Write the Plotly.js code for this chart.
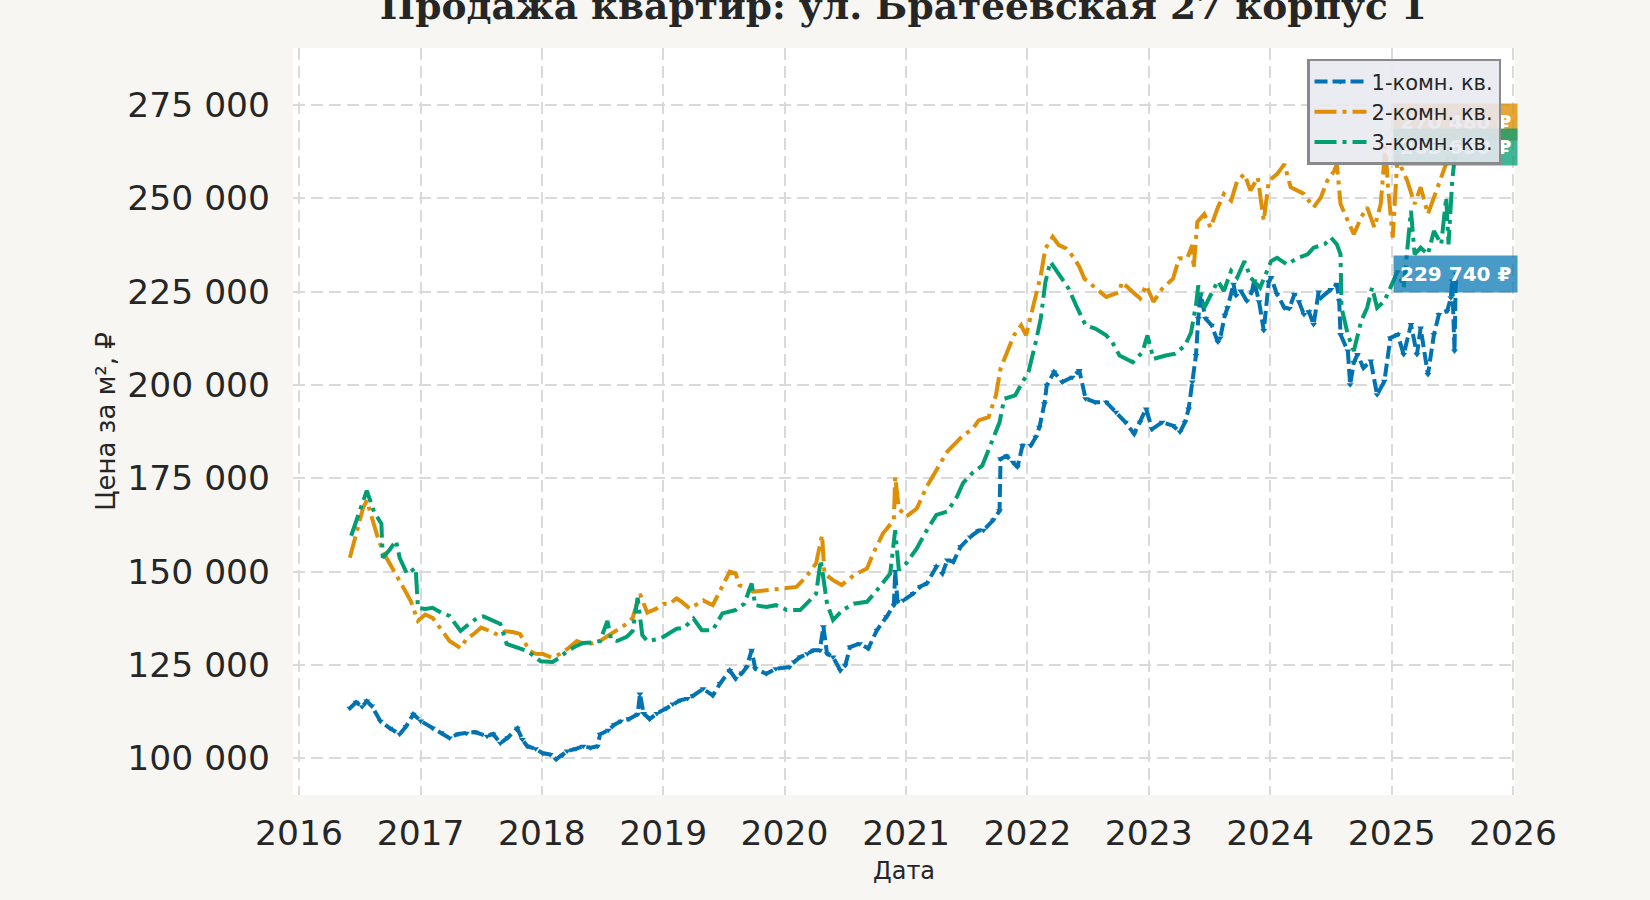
<!DOCTYPE html>
<html>
<head>
<meta charset="utf-8">
<script src="https://cdn.plot.ly/plotly-3.0.1.min.js"></script>
<style>
html,body{margin:0;padding:0;background:#f7f6f2;}
#chart{width:1650px;height:900px;}
</style>
</head>
<body>
<div id="chart"></div>
<script>
// ---- Data (decimal years and price per m²) ----
const seriesNames = ["1-комн. кв.", "2-комн. кв.", "3-комн. кв."];

const room1Years = [2016.42,2016.47,2016.52,2016.56,2016.6,2016.67,2016.75,2016.83,2016.88,2016.94,2017.0,2017.1,2017.17,2017.24,2017.31,2017.38,2017.45,2017.55,2017.6,2017.66,2017.72,2017.8,2017.84,2017.88,2017.95,2018.01,2018.07,2018.12,2018.17,2018.21,2018.28,2018.34,2018.4,2018.46,2018.48,2018.55,2018.6,2018.65,2018.72,2018.79,2018.81,2018.84,2018.89,2018.95,2019.03,2019.08,2019.14,2019.2,2019.25,2019.33,2019.41,2019.47,2019.55,2019.6,2019.65,2019.69,2019.73,2019.76,2019.85,2019.93,2020.04,2020.08,2020.13,2020.19,2020.24,2020.29,2020.32,2020.35,2020.4,2020.46,2020.5,2020.54,2020.62,2020.69,2020.76,2020.84,2020.9,2020.91,2020.93,2020.98,2021.06,2021.12,2021.17,2021.25,2021.3,2021.34,2021.39,2021.45,2021.53,2021.6,2021.64,2021.72,2021.77,2021.78,2021.83,2021.88,2021.92,2021.96,2022.03,2022.07,2022.1,2022.14,2022.16,2022.22,2022.29,2022.37,2022.43,2022.48,2022.56,2022.65,2022.73,2022.81,2022.88,2022.93,2022.98,2023.03,2023.11,2023.2,2023.26,2023.3,2023.33,2023.36,2023.39,2023.41,2023.43,2023.47,2023.52,2023.57,2023.59,2023.63,2023.65,2023.7,2023.72,2023.76,2023.81,2023.85,2023.87,2023.91,2023.95,2023.99,2024.01,2024.06,2024.12,2024.16,2024.2,2024.24,2024.28,2024.32,2024.36,2024.4,2024.42,2024.5,2024.55,2024.57,2024.58,2024.64,2024.66,2024.69,2024.72,2024.77,2024.83,2024.88,2024.94,2024.99,2025.05,2025.1,2025.16,2025.21,2025.24,2025.3,2025.35,2025.39,2025.46,2025.49,2025.5,2025.52,2025.53];
const room1Prices = [113400,115000,113800,115300,114000,109900,108000,106400,108500,111800,110000,108000,106800,105400,106500,106700,107000,105900,106500,104000,105500,108000,105000,103200,102500,101300,101000,99700,100800,101900,102500,103200,102800,103200,106400,107500,109000,109900,110500,111800,117200,112000,110500,112000,113400,114500,115500,116000,116800,118600,116800,120000,123500,121300,122800,124400,128900,124000,122600,124000,124400,125800,127100,128000,128900,128900,135200,128000,127100,123500,124900,129800,130700,129400,134300,137900,141000,150000,142000,142300,144100,146000,146800,151300,149500,153100,152600,156700,159300,161000,161100,163800,166300,180200,181000,179300,178000,183800,183800,186000,188700,195000,199900,203500,200800,202100,203900,196300,195400,195400,192700,190000,186900,190000,193600,188200,190000,189100,187400,190000,193600,200800,207900,217800,224300,217800,216000,211500,212600,218700,220700,227000,224000,225200,222500,224900,227900,222300,214600,227600,228800,224300,220700,220500,224300,222300,218900,219600,216200,224900,223400,225600,227000,222500,213500,209100,200100,206000,208200,204600,206400,197400,201000,212600,213500,208200,216200,208200,215300,202800,213500,218900,219800,223400,227900,209100,229740];

const room2Years = [2016.42,2016.47,2016.53,2016.56,2016.61,2016.66,2016.72,2016.78,2016.83,2016.92,2016.98,2017.04,2017.1,2017.17,2017.24,2017.33,2017.38,2017.44,2017.5,2017.57,2017.64,2017.7,2017.76,2017.82,2017.9,2017.95,2018.01,2018.08,2018.15,2018.22,2018.29,2018.36,2018.42,2018.48,2018.55,2018.62,2018.7,2018.75,2018.81,2018.87,2018.94,2019.0,2019.05,2019.11,2019.15,2019.22,2019.28,2019.33,2019.41,2019.49,2019.55,2019.6,2019.63,2019.74,2019.88,2019.99,2020.1,2020.18,2020.26,2020.31,2020.33,2020.4,2020.47,2020.57,2020.68,2020.73,2020.81,2020.9,2020.91,2020.94,2021.0,2021.09,2021.17,2021.25,2021.34,2021.42,2021.47,2021.55,2021.6,2021.68,2021.74,2021.78,2021.82,2021.89,2021.95,2021.99,2022.05,2022.11,2022.15,2022.21,2022.26,2022.32,2022.38,2022.43,2022.47,2022.54,2022.65,2022.76,2022.78,2022.87,2022.93,2022.98,2023.04,2023.11,2023.2,2023.25,2023.32,2023.36,2023.37,2023.4,2023.46,2023.51,2023.57,2023.62,2023.68,2023.73,2023.79,2023.84,2023.9,2023.95,2023.99,2024.06,2024.12,2024.17,2024.23,2024.28,2024.36,2024.42,2024.47,2024.53,2024.55,2024.58,2024.64,2024.69,2024.75,2024.8,2024.86,2024.91,2024.95,2024.97,2025.01,2025.05,2025.08,2025.13,2025.19,2025.24,2025.3,2025.35,2025.41,2025.46,2025.49,2025.53];
const room2Prices = [153700,160000,167100,169000,163600,158000,153700,150500,147500,142200,136800,138500,137600,134500,131400,129500,132000,133300,135000,134100,133000,134000,133800,133300,128700,128000,127900,127000,127900,129500,131400,130500,130800,131400,132800,134100,136000,137600,144000,139000,140000,141400,141300,142800,142000,140100,141300,142300,141000,145900,150000,149500,146400,144600,145000,145500,145900,148600,152200,159800,149500,147700,146400,149000,150800,154900,160200,163800,175400,166900,164700,166900,172800,177200,182200,184800,186500,188200,190500,191400,197200,204400,207900,213300,216000,213300,221400,229400,236600,239700,237500,236600,234300,231700,228500,226700,223600,224900,227600,224900,223200,226700,222300,225800,228500,233900,234000,237500,231200,243700,245800,242200,247600,251200,249400,254700,256500,252100,255600,244000,254700,256500,259200,253000,252100,251200,247600,250300,254700,257400,259200,248500,244000,240400,244900,247600,242200,248500,264000,253000,239500,262000,258300,254700,248500,253000,245800,250300,255600,260100,265500,270480];

const room3Years = [2016.43,2016.5,2016.56,2016.62,2016.68,2016.69,2016.75,2016.8,2016.83,2016.89,2016.96,2016.98,2017.04,2017.1,2017.17,2017.24,2017.33,2017.4,2017.47,2017.52,2017.6,2017.66,2017.71,2017.8,2017.88,2017.99,2018.09,2018.15,2018.21,2018.28,2018.34,2018.42,2018.48,2018.54,2018.57,2018.62,2018.7,2018.75,2018.79,2018.83,2018.87,2018.97,2019.0,2019.11,2019.17,2019.25,2019.32,2019.41,2019.49,2019.6,2019.67,2019.73,2019.76,2019.85,2019.93,2020.02,2020.13,2020.21,2020.26,2020.3,2020.35,2020.4,2020.48,2020.57,2020.68,2020.76,2020.87,2020.91,2020.94,2021.0,2021.09,2021.17,2021.25,2021.34,2021.42,2021.47,2021.55,2021.63,2021.71,2021.77,2021.81,2021.9,2021.96,2022.01,2022.07,2022.11,2022.15,2022.19,2022.23,2022.29,2022.34,2022.4,2022.48,2022.56,2022.65,2022.7,2022.76,2022.87,2022.95,2022.99,2023.04,2023.14,2023.22,2023.3,2023.35,2023.39,2023.41,2023.46,2023.51,2023.57,2023.62,2023.68,2023.73,2023.79,2023.84,2023.92,2024.01,2024.06,2024.14,2024.23,2024.31,2024.36,2024.45,2024.5,2024.55,2024.58,2024.59,2024.64,2024.69,2024.75,2024.8,2024.84,2024.88,2024.94,2024.99,2025.05,2025.1,2025.16,2025.19,2025.24,2025.3,2025.35,2025.41,2025.45,2025.47,2025.5,2025.53];
const room3Prices = [159600,166000,171700,166000,162800,153700,156000,158300,153700,149400,151000,140300,140000,140300,139000,138100,134100,136000,137600,138000,137000,136000,130600,129500,128700,126000,125800,127000,128700,130000,130900,131000,131400,136800,131800,131400,132500,134100,143000,133000,131400,132000,132500,134700,134900,137400,134300,134300,138800,139700,141400,146800,141000,140500,141000,139700,139700,142300,144100,153100,141400,137000,139700,141400,141900,145000,149500,161100,150400,152200,156200,161100,165200,166100,170100,173700,176500,178400,184700,190000,196300,197200,200800,203500,211500,217800,227600,233000,231200,228500,225800,221400,216000,215100,213300,211500,207900,206100,208800,213300,207000,207900,208400,210600,214000,221400,226700,220700,224300,227900,225200,230600,228800,233200,228800,226100,233200,234100,232300,234100,235000,236800,237700,239500,237700,235000,220700,213500,209100,217100,220700,226100,220700,222500,226100,230600,226100,246700,235000,236800,235000,241300,237700,250300,237700,254700,263650];

const yTickVals = [100000,125000,150000,175000,200000,225000,250000,275000];
const yTickText = ["100 000","125 000","150 000","175 000","200 000","225 000","250 000","275 000"];
const xTickYears = [2016,2017,2018,2019,2020,2021,2022,2023,2024,2025,2026];

// ---- helpers ----
function toDate(y){
  const yr = Math.floor(y);
  const s = Date.UTC(yr,0,1), e = Date.UTC(yr+1,0,1);
  return new Date(s + (y-yr)*(e-s)).toISOString().slice(0,10);
}
function fmt(v){ return String(Math.round(v)).replace(/\B(?=(\d{3})+(?!\d))/g," ") + " ₽"; }

const colors = ["#0173b2","#de8f05","#029e73"];
const labelBg = ["rgba(1,115,178,0.72)","rgba(222,143,5,0.8)","rgba(2,158,115,0.75)"];
const yearsAll = [room1Years, room2Years, room3Years];
const pricesAll = [room1Prices, room2Prices, room3Prices];

const traces = [
  {x: room1Years.map(toDate), y: room1Prices, name: seriesNames[0], type:"scatter", mode:"lines+markers",
   line:{color:colors[0], width:4, dash:"13px,5px"},
   marker:{symbol:"triangle-down", size:6, color:colors[0]}},
  {x: room2Years.map(toDate), y: room2Prices, name: seriesNames[1], type:"scatter", mode:"lines",
   line:{color:colors[1], width:4, dash:"22px,6px,4px,6px"}},
  {x: room3Years.map(toDate), y: room3Prices, name: seriesNames[2], type:"scatter", mode:"lines",
   line:{color:colors[2], width:4, dash:"22px,6px,4px,6px"}}
];

const annOrder = [1,2,0];
const annotations = annOrder.map(i => {
  const n = yearsAll[i].length;
  return {
    x: toDate(yearsAll[i][n-1]), y: pricesAll[i][n-1], xref:"x", yref:"y",
    text: "<b>"+fmt(pricesAll[i][n-1])+"</b>", showarrow:false,
    xanchor:"center", yanchor:"middle",
    font:{family:"DejaVu Sans", size:20, color:"#ffffff"},
    bgcolor: labelBg[i], borderpad:6
  };
});

const layout = {
  width:1650, height:900,
  paper_bgcolor:"#f7f6f2", plot_bgcolor:"#ffffff",
  margin:{l:293, r:135, t:48, b:105},
  title:{text:"Продажа квартир: ул. Братеевская 27 корпус 1",
    font:{family:"DejaVu Serif", size:37.5, color:"#262626", weight:"bold"},
    x:0.5475, xanchor:"center", xref:"container", yref:"container", y:0.9935, yanchor:"middle"},
  xaxis:{type:"date", range:["2015-12-14","2026-01-07"],
    tickvals: xTickYears.map(y => y+"-01-01"), ticktext: xTickYears.map(String),
    showgrid:true, gridcolor:"#dadada", gridwidth:2, griddash:"12px,6px",
    zeroline:false, showline:false, ticks:"", ticklabelstandoff:14,
    tickfont:{family:"DejaVu Sans", size:34.5, color:"#262626"},
    title:{text:"Дата", font:{family:"DejaVu Sans", size:24, color:"#262626"}, standoff:10}},
  yaxis:{range:[90140, 290300], tickvals:yTickVals, ticktext:yTickText,
    showgrid:true, gridcolor:"#dadada", gridwidth:2, griddash:"12px,6px",
    zeroline:false, showline:false, ticks:"", ticklabelstandoff:22,
    tickfont:{family:"DejaVu Sans", size:34.5, color:"#262626"},
    title:{text:"Цена за м², ₽", font:{family:"DejaVu Sans", size:26, color:"#262626"}, standoff:4}},
  legend:{x:0.8298, y:0.9855, xanchor:"left", yanchor:"top",
    bgcolor:"rgba(232,232,240,0.88)", bordercolor:"#8a8a8a", borderwidth:2.5,
    font:{family:"DejaVu Sans", size:21, color:"#262626"}, itemwidth:52},
  showlegend:true,
  annotations: annotations
};

Plotly.newPlot("chart", traces, layout, {displayModeBar:false, staticPlot:true}).then(gd => {
  // keep the legend above the end-value labels, as in the reference
  const leg = gd.querySelector("g.legend");
  if (leg && leg.parentNode) leg.parentNode.appendChild(leg);
});
</script>
</body>
</html>
